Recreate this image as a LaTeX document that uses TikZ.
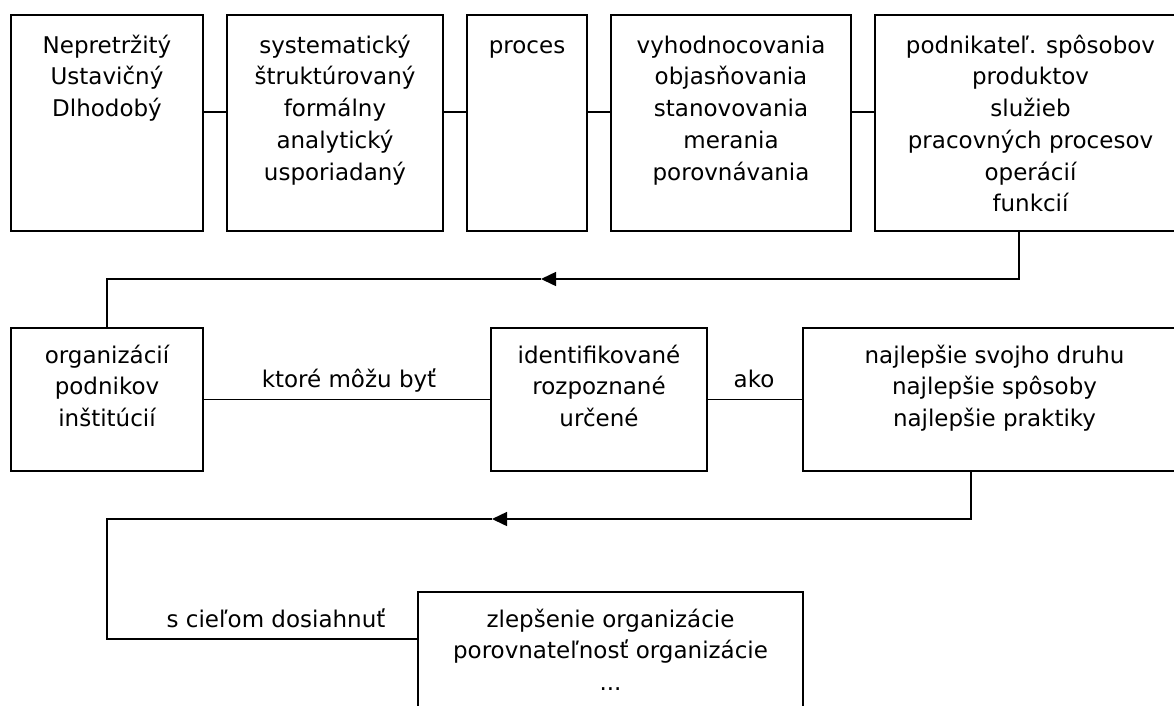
\documentclass[tikz,border=0pt]{standalone}
\usepackage{fontspec}
\setmainfont{DejaVu Sans}
\usetikzlibrary{arrows.meta}
\newcommand\myfl{\rule{0pt}{22pt}}
\begin{document}
\begin{tikzpicture}[x=1pt,y=-1pt,
  box/.style={draw, line width=1.5pt, outer sep=0pt, inner sep=0pt, rectangle},
  txt/.style={font=\fontsize{23}{31.7}\selectfont, align=center, inner sep=0pt, anchor=north},
  lbl/.style={font=\fontsize{23}{31.7}\selectfont, inner sep=0pt, anchor=base},
  conn/.style={line width=1.5pt},
  arr/.style={line width=1.5pt, -{Triangle[length=15pt,width=14pt]}}]
\useasboundingbox (0,0) rectangle (1174,705);
\clip (0,0) rectangle (1174,705);
% top row
\node[box, minimum width=192pt, minimum height=216pt] (b1) at (107,123) {};
\node[box, minimum width=216pt, minimum height=216pt] (b2) at (335,123) {};
\node[box, minimum width=120pt, minimum height=216pt] (b3) at (527,123) {};
\node[box, minimum width=240pt, minimum height=216pt] (b4) at (731,123) {};
\node[box, minimum width=311pt, minimum height=216pt] (b5) at (1030.5,123) {};
\node[txt] (t1) at (107,31) {\myfl Nepretržitý\\Ustavičný\\Dlhodobý};
\node[txt] (t2) at (335,31) {\myfl systematický\\štruktúrovaný\\formálny\\analytický\\usporiadaný};
\node[txt] (t3) at (527,31) {\myfl proces};
\node[txt] (t4) at (731,31) {\myfl vyhodnocovania\\objasňovania\\stanovovania\\merania\\porovnávania};
\node[txt] (t5) at (1030.5,31) {\myfl podnikateľ. spôsobov\\produktov\\služieb\\pracovných procesov\\operácií\\funkcií};
\draw[conn] ([yshift=11pt]b1.east) -- ([yshift=11pt]b2.west);
\draw[conn] ([yshift=11pt]b2.east) -- ([yshift=11pt]b3.west);
\draw[conn] ([yshift=11pt]b3.east) -- ([yshift=11pt]b4.west);
\draw[conn] ([yshift=11pt]b4.east) -- ([yshift=11pt]b5.west);
% middle row
\node[box, minimum width=192pt, minimum height=143pt] (bA) at (107,399.5) {};
\node[box, minimum width=216pt, minimum height=143pt] (bB) at (599,399.5) {};
\node[box, minimum width=383pt, minimum height=143pt] (bC) at (994.5,399.5) {};
\node[txt] (tA) at (107,341) {\myfl organizácií\\podnikov\\inštitúcií};
\node[txt] (tB) at (599,341) {\myfl identifikované\\rozpoznané\\určené};
\node[txt] (tC) at (994.5,341) {\myfl najlepšie svojho druhu\\najlepšie spôsoby\\najlepšie praktiky};
\draw[conn] (bA.east) -- (bB.west);
\draw[conn] (bB.east) -- (bC.west);
\node[lbl] (l1) at (349,387) {ktoré môžu byť};
\node[lbl] (l2) at (754,387) {ako};
% bottom box
\node[box, minimum width=385pt, minimum height=200pt] (bot) at (610.5,692) {};
\node[txt] (tbot) at (610.5,605) {\myfl zlepšenie organizácie\\porovnateľnosť organizácie\\...};
\node[lbl] (l3) at (276,627) {s cieľom dosiahnuť};
% connectors with arrows
\coordinate (p1) at (1019,231);
\coordinate (a1) at (541,279);
\draw[arr] (p1) |- (a1);
\draw[conn] (a1) -| (bA.north);
\coordinate (p2) at (971,471);
\coordinate (a2) at (492,519);
\coordinate (c3) at (107,639);
\draw[arr] (p2) |- (a2);
\draw[conn] (a2) -| (c3) -- (c3 -| bot.west);
\end{tikzpicture}
\end{document}
